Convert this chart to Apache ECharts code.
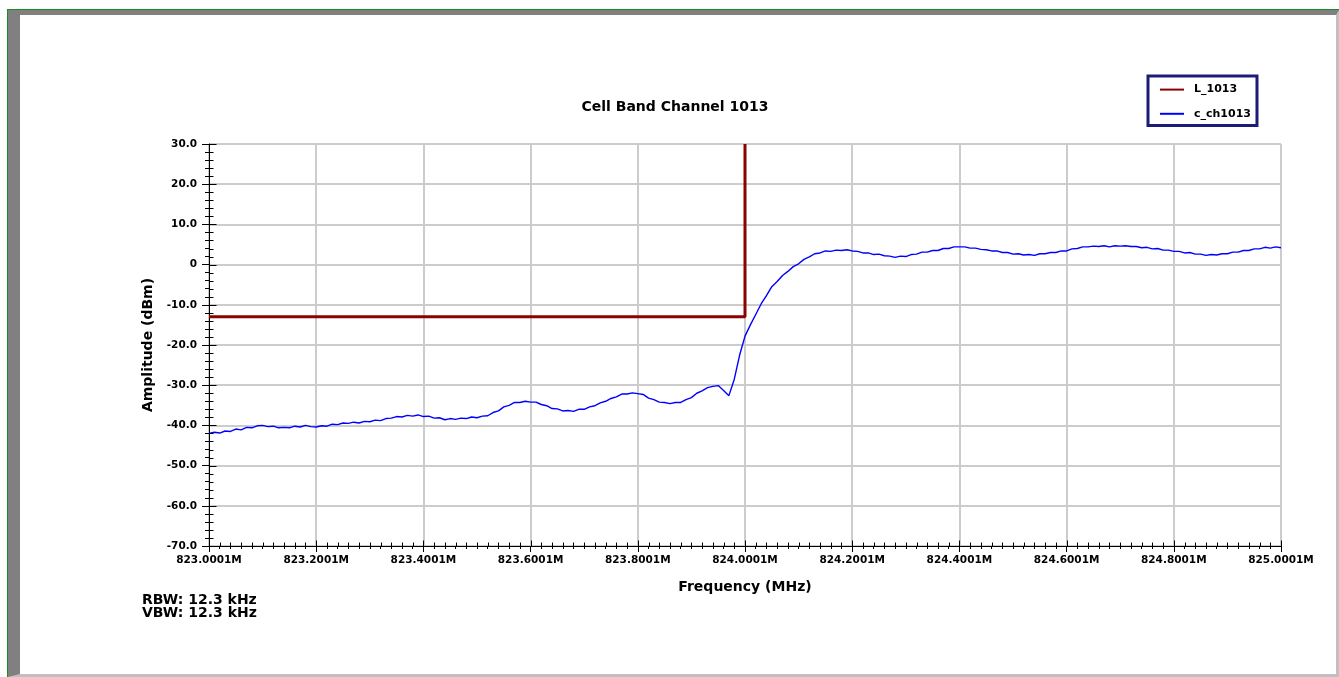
<!DOCTYPE html>
<html>
<head>
<meta charset="utf-8">
<title>Cell Band Channel 1013</title>
<script src="https://cdn.jsdelivr.net/npm/echarts@6/dist/echarts.min.js"></script>
<style>
  html, body { margin: 0; padding: 0; background: #ffffff; overflow: hidden; }
  #frameOuter {
    position: absolute; left: 7px; top: 9px; width: 1332px; height: 668px;
    box-sizing: border-box;
    border-top: 1px solid #1f8a1f; border-left: 1px solid #1f8a1f;
  }
  #frameBevel {
    position: absolute; left: 8px; top: 10px; width: 1331px; height: 667px;
    box-sizing: border-box;
    border-top: 5px solid #808080; border-left: 12px solid #808080;
    border-right: 3px solid #c0c0c0; border-bottom: 3px solid #c0c0c0;
  }
  #chart { position: absolute; left: 0; top: 0; width: 1339px; height: 677px; }
</style>
</head>
<body>
<div id="frameOuter"></div>
<div id="frameBevel"></div>
<div id="chart"></div>
<script>
// Sweep settings of the measured trace (Hz)
const sweepStartHz = 823000100;
const sweepStepHz = 10000;

// Measured trace c_ch1013 (dBm), one value per sweep step
const traceDbm = [
  -42.0, -41.7, -41.9, -41.4, -41.5, -40.9, -41.1, -40.5, -40.6, -40.1, -40.0, -40.3, -40.2, -40.6, -40.5, -40.6, -40.2, -40.4, -40.0, -40.3,
  -40.4, -40.1, -40.2, -39.7, -39.8, -39.4, -39.5, -39.2, -39.4, -39.0, -39.1, -38.7, -38.8, -38.3, -38.2, -37.8, -37.9, -37.5, -37.7, -37.4,
  -37.8, -37.7, -38.2, -38.1, -38.6, -38.3, -38.5, -38.2, -38.3, -37.9, -38.1, -37.7, -37.6, -36.8, -36.4, -35.4, -35.0, -34.3, -34.3, -34.0,
  -34.2, -34.2, -34.8, -35.1, -35.8, -35.9, -36.4, -36.3, -36.5, -36.0, -36.0, -35.4, -35.1, -34.4, -34.0, -33.3, -32.9, -32.2, -32.2, -31.9,
  -32.1, -32.3, -33.2, -33.6, -34.2, -34.3, -34.6, -34.3, -34.3, -33.6, -33.1, -32.0, -31.4, -30.6, -30.3, -30.1, -31.3, -32.6, -28.5, -22.5,
  -17.8, -15.0, -12.4, -9.8, -7.7, -5.5, -4.2, -2.7, -1.7, -0.5, 0.2, 1.3, 1.9, 2.7, 2.9, 3.4, 3.3, 3.6, 3.5, 3.7,
  3.4, 3.3, 2.9, 2.9, 2.5, 2.6, 2.2, 2.1, 1.8, 2.1, 2.0, 2.5, 2.6, 3.1, 3.1, 3.5, 3.5, 4.0, 4.0, 4.4,
  4.4, 4.4, 4.1, 4.1, 3.8, 3.7, 3.4, 3.4, 3.0, 3.0, 2.6, 2.7, 2.4, 2.5, 2.3, 2.7, 2.7, 3.0, 3.0, 3.4,
  3.4, 3.9, 4.0, 4.4, 4.4, 4.6, 4.5, 4.7, 4.4, 4.7, 4.6, 4.7, 4.5, 4.5, 4.2, 4.3, 3.9, 4.0, 3.6, 3.6,
  3.3, 3.3, 2.9, 3.0, 2.6, 2.6, 2.3, 2.5, 2.4, 2.7, 2.7, 3.1, 3.1, 3.5, 3.5, 3.9, 3.9, 4.3, 4.1, 4.4,
  4.2
];

// Limit line L_1013
const limitFreqHz = [823000100, 824000100, 824000100];
const limitDbm = [-13, -13, 30];

// Axis ranges
const freqMinHz = 823000100;
const freqMaxHz = 825000100;
const freqStepHz = 200000;
const freqMinorSplit = 10;
const ampMin = -70;
const ampMax = 30;
const ampStep = 10;
const ampMinorSplit = 5;

// Annotations
const chartTitle = 'Cell Band Channel 1013';
const xAxisName = 'Frequency (MHz)';
const yAxisName = 'Amplitude (dBm)';
const noteLines = ['RBW: 12.3 kHz', 'VBW: 12.3 kHz'];

const FONT = '"DejaVu Sans", "Liberation Sans", Arial, sans-serif';

const freqLabel = v => (v / 1e6).toFixed(4) + 'M';
const ampLabel = v => (v === 0 ? '0' : v.toFixed(1));
const tickLine = { color: '#000000', width: 1 };

// Tick positions on both axes; the axes draw the outer half of every tick,
// the custom series below draws the inner half so each tick crosses the axis line.
// Item layout: [x, y, orientation (0 = y-axis tick, 1 = x-axis tick), isMajor]
const innerTickItems = [];
for (let k = 0; k <= (ampMax - ampMin) / ampStep * ampMinorSplit; k++) {
  innerTickItems.push([freqMinHz, ampMin + k * ampStep / ampMinorSplit, 0, k % ampMinorSplit === 0 ? 1 : 0]);
}
for (let k = 0; k <= (freqMaxHz - freqMinHz) / freqStepHz * freqMinorSplit; k++) {
  innerTickItems.push([freqMinHz + k * freqStepHz / freqMinorSplit, ampMin, 1, k % freqMinorSplit === 0 ? 1 : 0]);
}

const chart = echarts.init(document.getElementById('chart'), null, { renderer: 'canvas' });

chart.setOption({
  animation: false,
  backgroundColor: 'transparent',
  grid: { left: 209, right: 58, top: 144, bottom: 131, outerBoundsMode: 'none', containLabel: false },
  legend: {
    left: 1148, top: 76,
    orient: 'vertical',
    data: ['L_1013', 'c_ch1013'],
    itemWidth: 24, itemHeight: 14, itemGap: 13,
    padding: [8, 6, 6, 11],
    borderColor: '#1c1c78', borderWidth: 3, borderRadius: 0,
    backgroundColor: '#ffffff',
    // series lines only, no point markers in the key
    itemStyle: { color: 'transparent', borderColor: 'transparent', borderWidth: 0, opacity: 0 },
    textStyle: { fontFamily: FONT, fontWeight: 'bold', fontSize: 11, color: '#000000', padding: [0, 0, 0, 5] }
  },
  xAxis: {
    type: 'value', min: freqMinHz, max: freqMaxHz, interval: freqStepHz, position: 'bottom',
    axisLine: { show: true, onZero: false, lineStyle: tickLine },
    axisTick: { show: true, inside: false, length: 6, lineStyle: tickLine },
    minorTick: { show: true, splitNumber: freqMinorSplit, length: 3, lineStyle: tickLine },
    axisLabel: { show: true, formatter: freqLabel, fontFamily: FONT, fontWeight: 'bold', fontSize: 10.5, color: '#000000', margin: 9 },
    splitLine: { show: true, lineStyle: { color: '#cccccc', width: 2 } },
    name: xAxisName, nameLocation: 'middle', nameGap: 34,
    nameTextStyle: { fontFamily: FONT, fontWeight: 'bold', fontSize: 14, color: '#000000' }
  },
  yAxis: {
    type: 'value', min: ampMin, max: ampMax, interval: ampStep, position: 'left',
    axisLine: { show: true, onZero: false, lineStyle: tickLine },
    axisTick: { show: true, inside: false, length: 7, lineStyle: tickLine },
    minorTick: { show: true, splitNumber: ampMinorSplit, length: 4, lineStyle: tickLine },
    axisLabel: { show: true, formatter: ampLabel, fontFamily: FONT, fontWeight: 'bold', fontSize: 10.5, color: '#000000', margin: 12 },
    splitLine: { show: true, lineStyle: { color: '#cccccc', width: 2 } },
    name: yAxisName, nameLocation: 'middle', nameGap: 54, nameRotate: 90,
    nameTextStyle: { fontFamily: FONT, fontWeight: 'bold', fontSize: 14, color: '#000000' }
  },
  graphic: [
    {
      type: 'text', x: 675, y: 107, silent: true,
      style: { text: chartTitle, fill: '#000000', font: 'bold 14px ' + FONT, textAlign: 'center', textVerticalAlign: 'middle' }
    },
    {
      type: 'text', x: 142, y: 600, silent: true,
      style: { text: noteLines[0], fill: '#000000', font: 'bold 14px ' + FONT, textAlign: 'left', textVerticalAlign: 'middle' }
    },
    {
      type: 'text', x: 142, y: 613, silent: true,
      style: { text: noteLines[1], fill: '#000000', font: 'bold 14px ' + FONT, textAlign: 'left', textVerticalAlign: 'middle' }
    }
  ],
  series: [
    {
      name: 'L_1013', type: 'line',
      data: limitFreqHz.map((f, i) => [f, limitDbm[i]]),
      symbol: 'none', clip: true, z: 3,
      lineStyle: { color: '#8b0000', width: 3 }, itemStyle: { color: '#8b0000' }
    },
    {
      name: 'c_ch1013', type: 'line',
      data: traceDbm.map((v, i) => [sweepStartHz + i * sweepStepHz, v]),
      symbol: 'none', clip: true, z: 4,
      lineStyle: { color: '#0000ff', width: 1.4 }, itemStyle: { color: '#0000ff' }
    },
    {
      name: 'inner ticks', type: 'custom', silent: true, clip: false, z: 5,
      data: innerTickItems,
      encode: { x: 0, y: 1 },
      renderItem: (params, api) => {
        const p = api.coord([api.value(0), api.value(1)]);
        const isXTick = api.value(2) === 1;
        const len = api.value(3) === 1 ? (isXTick ? 6 : 7) : 4;
        const px = Math.round(p[0]) + 0.5;
        const py = Math.round(p[1]) + 0.5;
        const shape = isXTick
          ? { x1: px, y1: py, x2: px, y2: py - len }
          : { x1: px, y1: py, x2: px + len, y2: py };
        return { type: 'line', shape: shape, style: { stroke: '#000000', lineWidth: 1 } };
      }
    }
  ]
});
</script>
</body>
</html>
